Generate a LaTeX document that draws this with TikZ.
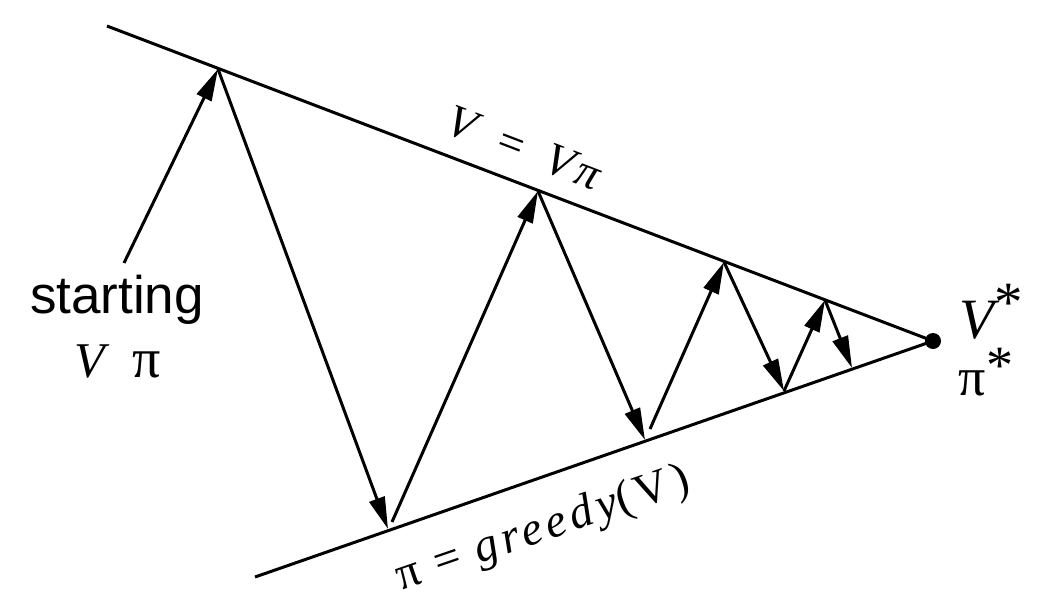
\documentclass[tikz,border=0pt]{standalone}
\usepackage{fontspec}
\setmainfont{Liberation Serif}
\newfontfamily\hsans{Liberation Sans}
\newfontfamily\spaced[LetterSpace=10]{Liberation Serif}
\usetikzlibrary{arrows.meta}
\begin{document}
\begin{tikzpicture}[x=1pt,y=-1pt,
  ln/.style={line width=3pt},
  arr/.style={line width=3pt,-{Triangle[length=32pt,width=16pt]}},
  lbl/.style={inner sep=0pt,anchor=center}]
\useasboundingbox (0,0) rectangle (1042,608);
\coordinate (T0) at (107,26);
\coordinate (B0) at (255,577);
\coordinate (D) at (933,341);
\coordinate (S) at (124,263);
\coordinate (T1) at (218,69);
\coordinate (B1) at (388,529);
\coordinate (B1s) at (392,522);
\coordinate (T2) at (538,191);
\coordinate (B2) at (645,440);
\coordinate (B2s) at (650,429);
\coordinate (T3) at (724,262);
\coordinate (B3) at (784,391);
\coordinate (T4) at (825,300);
\coordinate (B4) at (852,368);

\draw[ln] (T0) -- (D);
\draw[ln] (B0) -- (D);
\fill (D) circle (8);

\draw[arr] (S) -- (T1);
\draw[arr] (T1) -- (B1);
\draw[arr] (B1s) -- (T2);
\draw[arr] (T2) -- (B2);
\draw[arr] (B2s) -- (T3);
\draw[arr] (T3) -- (B3);
\draw[arr] (B3) -- (T4);
\draw[arr] (T4) -- (B4);

\node[lbl] (start) at (117,300) {\fontsize{53}{60}\selectfont\hsans starting};
\node[lbl] (vpi) at (118,362) {\fontsize{50}{60}\selectfont\itshape V\hspace{0.55em}\upshape\fontsize{56}{60}\selectfont π};
\node[lbl,rotate=-21] (top) at (524,148) {\fontsize{46}{50}\selectfont\itshape V\hspace{0.5em}=\hspace{0.5em}V\hspace{0.1em}π};
\node[lbl,rotate=19] (bot) at (543,530) {\fontsize{47}{50}\selectfont\spaced π = {\itshape greedy}(V)};
\node[lbl] (vs) at (991,312) {\fontsize{57}{60}\selectfont\itshape V\raisebox{0.3em}{\upshape *}};
\node[lbl] (ps) at (986,372) {\fontsize{54}{60}\selectfont π\raisebox{0.22em}{*}};
\end{tikzpicture}
\end{document}
